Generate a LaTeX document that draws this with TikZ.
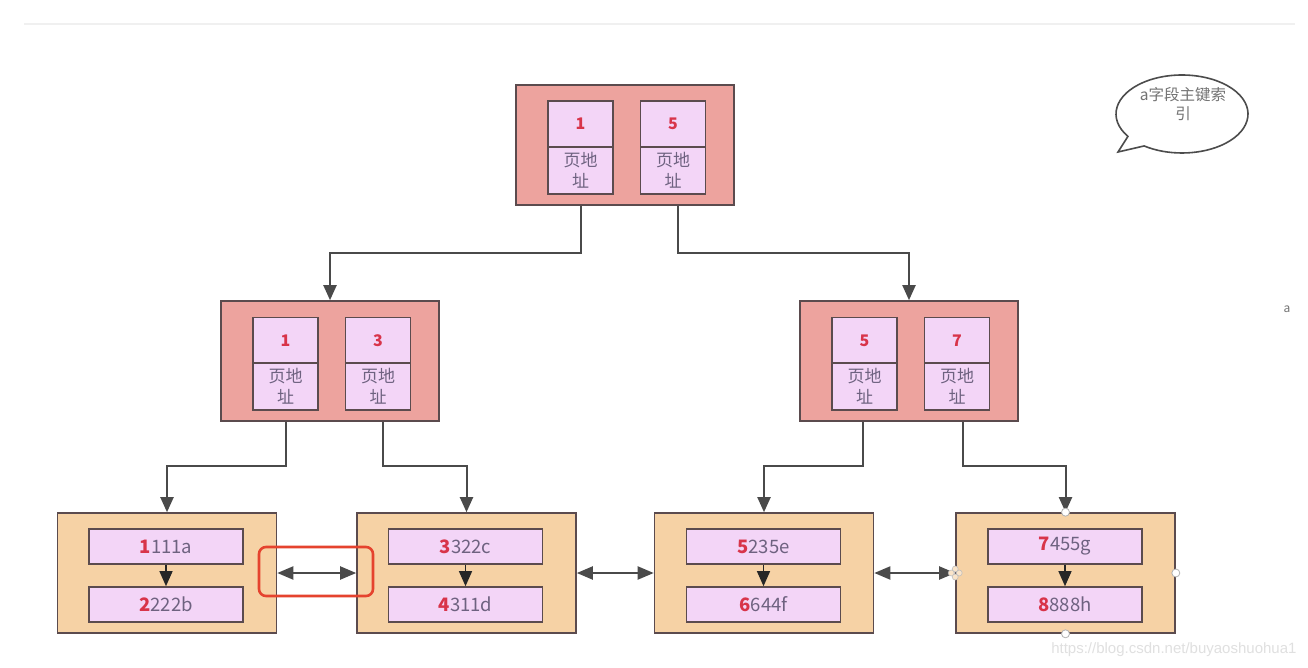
\documentclass[tikz,border=0pt]{standalone}
\usepackage{fontspec}
\setmainfont{Noto Sans CJK SC}
\newfontfamily\wmfont{Liberation Sans}
\usetikzlibrary{arrows.meta,calc}

\definecolor{idxfill}{HTML}{EDA39E}
\definecolor{edge}{HTML}{5B4B4E}
\definecolor{cellfill}{HTML}{F3D5F7}
\definecolor{leaffill}{HTML}{F6D2A5}
\definecolor{numred}{HTML}{D8344A}
\definecolor{txtgray}{HTML}{6E6280}
\definecolor{wire}{HTML}{4A4A4A}
\definecolor{hlred}{HTML}{E5432E}

\newcommand\rednum[1]{{\color{numred}\bfseries #1}}

\tikzset{
  idxbox/.style={draw=edge, line width=1.6pt, fill=idxfill, minimum width=218pt, minimum height=120pt, inner sep=0pt},
  keycell/.style={draw=edge, line width=1.6pt, fill=cellfill, minimum width=65pt, minimum height=46pt, inner sep=0pt,
    text=numred, font=\fontsize{16}{18}\selectfont\bfseries},
  addrcell/.style={draw=edge, line width=1.6pt, fill=cellfill, minimum width=65pt, minimum height=47pt, inner sep=0pt,
    align=center, text=txtgray, font=\fontsize{17}{21}\selectfont},
  leafbox/.style={draw=edge, line width=1.6pt, fill=leaffill, minimum width=219pt, minimum height=120pt, inner sep=0pt},
  rowbox/.style={draw=edge, line width=1.6pt, fill=cellfill, minimum width=154pt, minimum height=35pt, inner sep=0pt,
    text=txtgray, font=\fontsize{18.5}{20}\selectfont},
  conn/.style={draw=wire, line width=2pt, -{Triangle[length=15pt,width=13pt]}},
  dbl/.style={draw=wire, line width=2pt, {Triangle[length=16pt,width=13pt]}-{Triangle[length=16pt,width=13pt]}},
  nextrow/.style={draw=black!85, line width=1.2pt, -{Triangle[length=15pt,width=13pt]}},
  handle/.style={circle, draw=black!30, fill=white, line width=0.8pt, minimum size=8pt, inner sep=0pt},
}

\begin{document}
\begin{tikzpicture}[x=1pt,y=-1pt]
\useasboundingbox (0,0) rectangle (1308,668);
\fill[white] (0,0) rectangle (1308,668);
\draw[black!6, line width=1.2pt] (24,24) -- (1295,24);

% root page
\node[idxbox] (root) at (625,145) {};
\node[keycell]  (rk1) at (580.5,124)   {1};
\node[addrcell] (ra1) at (580.5,170.5) {页地\\址};
\node[keycell]  (rk2) at (673,124)     {5};
\node[addrcell] (ra2) at (673,170.5)   {页地\\址};

% second level pages
\node[idxbox] (ml) at (330,361) {};
\node[keycell]  (mlk1) at (285.5,340.5) {1};
\node[addrcell] (mla1) at (285.5,386.5) {页地\\址};
\node[keycell]  (mlk2) at (378,340.5)   {3};
\node[addrcell] (mla2) at (378,386.5)   {页地\\址};

\node[idxbox] (mr) at (909,361) {};
\node[keycell]  (mrk1) at (864.5,340.5) {5};
\node[addrcell] (mra1) at (864.5,386.5) {页地\\址};
\node[keycell]  (mrk2) at (957,340.5)   {7};
\node[addrcell] (mra2) at (957,386.5)   {页地\\址};

% leaf pages
\node[leafbox] (l1) at (167,573) {};
\node[rowbox] (l1a) at (166,546.5) {\rednum{1}111a};
\node[rowbox] (l1b) at (166,604.5) {\rednum{2}222b};

\node[leafbox] (l2) at (466.5,573) {};
\node[rowbox] (l2a) at (465.5,546.5) {\rednum{3}322c};
\node[rowbox] (l2b) at (465.5,604.5) {\rednum{4}311d};

\node[leafbox] (l3) at (764,573) {};
\node[rowbox] (l3a) at (763.5,546.5) {\rednum{5}235e};
\node[rowbox] (l3b) at (763.5,604.5) {\rednum{6}644f};

\node[leafbox] (l4) at (1065.5,573) {};
\node[rowbox] (l4a) at (1065,546.5) {\rednum{7}455g};
\node[rowbox] (l4b) at (1065,604.5) {\rednum{8}888h};

% rows linked inside each leaf
\foreach \p in {l1,l2,l3,l4}
  \draw[nextrow] (\p a.south) -- (\p b.north);

% lanes for the elbow connectors
\coordinate (laneA) at (0,253);
\coordinate (laneB) at (0,466);

\draw[conn] (ra1 |- root.south) -- (ra1 |- laneA) -| (ml.north);
\draw[conn] ($(ra2 |- root.south)+(5,0)$) -- ($(ra2 |- laneA)+(5,0)$) -| (mr.north);

\draw[conn] (mla1 |- ml.south) -- (mla1 |- laneB) -| (l1.north);
\draw[conn] ($(mla2 |- ml.south)+(5,0)$) -- ($(mla2 |- laneB)+(5,0)$) -| (l2.north);
\draw[conn] ($(mra1 |- mr.south)-(2,0)$) -- ($(mra1 |- laneB)-(2,0)$) -| (l3.north);
\draw[conn] ($(mra2 |- mr.south)+(6,0)$) -- ($(mra2 |- laneB)+(6,0)$) -| (l4.north);

% sibling links between leaves
\draw[dbl] (l1.east) -- (l2.west);
\draw[dbl] (l2.east) -- (l3.west);
\draw[dbl] (l3.east) -- (l4.west);

% highlight frame
\node[draw=hlred, line width=2.6pt, rounded corners=7pt, minimum width=114pt, minimum height=49pt, inner sep=0pt]
  (hl) at (316,571.5) {};

% selection handles
\node[handle] (h1) at (l4.north) {};
\node[handle] (h2) at (l4.south) {};
\node[handle] (h3) at (l4.east) {};
\foreach \a in {0,90,180,270}
  \draw[black!25, fill=leaffill!60, line width=0.6pt] ($(l4.west)+(\a:4pt)$) circle (3pt);

% speech bubble
\draw[black!70, line width=1.6pt, fill=white]
  (1182+66*cos 145, 114+39*sin 145) arc[start angle=145, end angle=485, x radius=66, y radius=39]
  -- (1118,152) -- cycle;
\node[text=black!55, align=center, font=\fontsize{15.5}{19}\selectfont] (bubbletext) at (1183,104) {a字段主键索\\引};

% stray label and watermark
\node[text=black!55, font=\fontsize{12}{14}\selectfont] (alabel) at (1287,309) {a};
\node[anchor=east, text=black!12, font=\wmfont\fontsize{15}{18}\selectfont] (wm) at (1300,650) {https://blog.csdn.net/buyaoshuohua1};
\end{tikzpicture}
\end{document}
